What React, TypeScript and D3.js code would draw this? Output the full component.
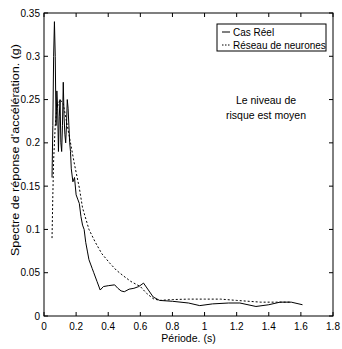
import React from "react";
import * as d3 from "d3";

const realX = [0.05,0.055,0.06,0.065,0.07,0.075,0.08,0.085,0.09,0.095,0.10,0.105,0.11,0.115,0.12,0.125,0.13,0.135,0.14,0.145,0.15,0.155,0.16,0.165,0.17,0.18,0.19,0.20,0.21,0.22,0.23,0.24,0.25,0.26,0.27,0.28,0.29,0.30,0.31,0.33,0.35,0.37,0.40,0.44,0.46,0.48,0.50,0.53,0.56,0.59,0.62,0.65,0.68,0.72,0.80,0.90,0.97,1.05,1.15,1.22,1.32,1.40,1.47,1.54,1.61];
const realY = [0.16,0.22,0.30,0.34,0.30,0.22,0.26,0.24,0.19,0.23,0.25,0.20,0.19,0.22,0.27,0.23,0.21,0.20,0.22,0.25,0.24,0.22,0.20,0.19,0.17,0.155,0.16,0.14,0.135,0.13,0.115,0.105,0.10,0.085,0.075,0.065,0.06,0.055,0.05,0.04,0.03,0.034,0.035,0.036,0.032,0.029,0.028,0.031,0.032,0.034,0.038,0.03,0.022,0.018,0.017,0.015,0.012,0.014,0.015,0.015,0.011,0.013,0.016,0.016,0.013];

const nnX = [0.05,0.055,0.06,0.07,0.08,0.10,0.12,0.14,0.16,0.19,0.22,0.24,0.28,0.32,0.36,0.41,0.45,0.49,0.54,0.60,0.64,0.68,0.72,0.80,0.90,1.00,1.10,1.20,1.35,1.45,1.53];
const nnY = [0.09,0.14,0.18,0.22,0.24,0.25,0.245,0.225,0.205,0.175,0.148,0.125,0.10,0.085,0.072,0.061,0.053,0.047,0.04,0.034,0.026,0.020,0.018,0.019,0.0195,0.0195,0.0195,0.018,0.016,0.016,0.016];

const xTicks = [0,0.2,0.4,0.6,0.8,1,1.2,1.4,1.6,1.8];
const yTicks = [0,0.05,0.1,0.15,0.2,0.25,0.3,0.35];
const seriesNames = ["Cas Réel", "Réseau de neurones"];
const annotation = ["Le niveau de", "risque est moyen"];
const xLabel = "Période. (s)";
const yLabel = "Spectre de réponse d'accélération. (g)";

export default function App() {
  const W = 342, H = 349;
  const L = 44, R = 333, T = 13, B = 316;
  const x = d3.scaleLinear().domain([0, 1.8]).range([L, R]);
  const y = d3.scaleLinear().domain([0, 0.35]).range([B, T]);
  const line = d3.line<[number, number]>().x(d => x(d[0])).y(d => y(d[1]));
  const realPts = realX.map((v, i) => [v, realY[i]] as [number, number]);
  const nnPts = nnX.map((v, i) => [v, nnY[i]] as [number, number]);
  const font = "'Liberation Sans', Arial, sans-serif";
  const tl = 4;
  return (
    <svg width={W} height={H} style={{ position: "absolute", left: 0, top: 0, background: "#fff" }} fontFamily={font}>
      <rect x={0} y={0} width={W} height={H} fill="#fff" />
      <path d={line(nnPts) || ""} fill="none" stroke="#000" strokeWidth={1} strokeDasharray="2,2" />
      <path d={line(realPts) || ""} fill="none" stroke="#000" strokeWidth={1} />
      <rect x={L} y={T} width={R - L} height={B - T} fill="none" stroke="#000" strokeWidth={1} />
      {xTicks.map(t => (
        <g key={"x" + t}>
          <line x1={x(t)} x2={x(t)} y1={B} y2={B - tl} stroke="#000" />
          <line x1={x(t)} x2={x(t)} y1={T} y2={T + tl} stroke="#000" />
          <text x={x(t)} y={B + 14} fontSize={10} textAnchor="middle">{String(t)}</text>
        </g>
      ))}
      {yTicks.map(t => (
        <g key={"y" + t}>
          <line x1={L} x2={L + tl} y1={y(t)} y2={y(t)} stroke="#000" />
          <line x1={R} x2={R - tl} y1={y(t)} y2={y(t)} stroke="#000" />
          <text x={L - 4} y={y(t) + 3.5} fontSize={10} textAnchor="end">{String(t)}</text>
        </g>
      ))}
      <text x={(L + R) / 2} y={342} fontSize={10.5} textAnchor="middle">{xLabel}</text>
      <text transform={`translate(19,150) rotate(-90)`} fontSize={10.5} textAnchor="middle" textLength={212} lengthAdjust="spacingAndGlyphs">{yLabel}</text>
      <rect x={217} y={24} width={109} height={27} fill="#fff" stroke="#000" />
      <line x1={222} x2={230} y1={32} y2={32} stroke="#000" />
      <line x1={222} x2={230} y1={45} y2={45} stroke="#000" strokeDasharray="1.5,1.5" />
      <text x={233} y={35.5} fontSize={10}>{seriesNames[0]}</text>
      <text x={233} y={48.5} fontSize={10}>{seriesNames[1]}</text>
      <text x={266} y={104} fontSize={10.5} textAnchor="middle">{annotation[0]}</text>
      <text x={266} y={119} fontSize={10.5} textAnchor="middle">{annotation[1]}</text>
    </svg>
  );
}
